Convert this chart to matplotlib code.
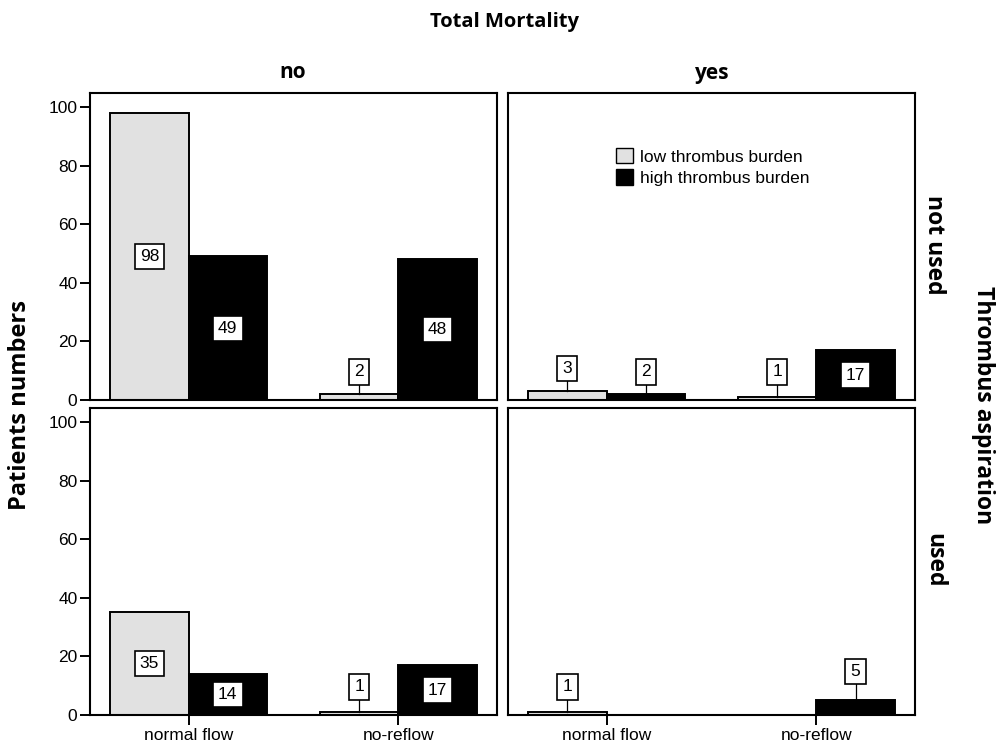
import matplotlib
matplotlib.use('Agg')
import matplotlib.pyplot as plt
from matplotlib.patches import Patch

# data
flow = ['normal flow', 'no-reflow']
mortality = ['no', 'yes']
aspiration = ['not used', 'used']
# [aspiration][mortality] -> values per flow category
low_burden = [[[98, 2], [3, 1]],
              [[35, 1], [1, 0]]]
high_burden = [[[49, 48], [2, 17]],
               [[14, 17], [0, 5]]]

low_color = '#e1e1e1'
high_color = '#000000'

plt.rcParams['font.family'] = ['Liberation Sans', 'DejaVu Sans']
fig = plt.figure(figsize=(9.98, 7.48), dpi=100)

W, H = 998, 748
lefts = [90, 508]
tops = [93, 408]
pw, ph = 407, 307

box = dict(boxstyle='square,pad=0.3', facecolor='white', edgecolor='black', linewidth=1.2)
bw = 0.373
small = 12.5
bold = dict(fontweight='bold', family=['Open Sans', 'DejaVu Sans'])

for r in range(2):
    for c in range(2):
        ax = fig.add_axes([lefts[c] / W, 1 - (tops[r] + ph) / H, pw / W, ph / H])
        lows = low_burden[r][c]
        highs = high_burden[r][c]
        for i in range(len(flow)):
            for val, x, col in [(lows[i], i - bw / 2, low_color), (highs[i], i + bw / 2, high_color)]:
                if val == 0:
                    continue
                ax.bar(x, val, width=bw, color=col, edgecolor='black', linewidth=1.4, zorder=2)
                if val >= 10:
                    ax.text(x, val / 2, str(val), ha='center', va='center', fontsize=small, bbox=box, zorder=3)
                else:
                    # small bars get their label above, with a leader line
                    ypos = max(1.95 * val + 5, 9.6)
                    ax.plot([x, x], [val, ypos], color='black', lw=0.9, zorder=2)
                    ax.text(x, ypos, str(val), ha='center', va='center', fontsize=small, bbox=box, zorder=3)
        ax.set_xlim(-0.47, 1.47)
        ax.set_ylim(0, 104.8)
        for s in ax.spines.values():
            s.set_linewidth(1.5)
        if c == 0:
            ax.set_yticks([0, 20, 40, 60, 80, 100])
            ax.tick_params(axis='y', direction='out', length=7, width=1.4, labelsize=small, pad=2)
        else:
            ax.set_yticks([])
        if r == 1:
            ax.set_xticks([0, 1])
            ax.set_xticklabels(flow)
            ax.tick_params(axis='x', direction='out', length=7, width=1.4, labelsize=small, pad=2)
        else:
            ax.set_xticks([])
        if r == 0 and c == 1:
            handles = [Patch(facecolor=low_color, edgecolor='black', label='low thrombus burden'),
                       Patch(facecolor=high_color, edgecolor='black', label='high thrombus burden')]
            ax.legend(handles=handles, loc='upper left', bbox_to_anchor=(0.24, 0.855), frameon=False,
                      fontsize=small, handlelength=1.0, handleheight=1.0, handletextpad=0.4,
                      labelspacing=0.25, borderpad=0.1)

fig.text(505 / W, 1 - 22 / H, 'Total Mortality', ha='center', va='center', fontsize=14.5, **bold)
fig.text(293 / W, 1 - 73 / H, mortality[0], ha='center', va='center', fontsize=15, **bold)
fig.text(712 / W, 1 - 73 / H, mortality[1], ha='center', va='center', fontsize=15, **bold)
fig.text(934 / W, 1 - 245 / H, aspiration[0], ha='center', va='center', rotation=-90, fontsize=16.5, **bold)
fig.text(934 / W, 1 - 560 / H, aspiration[1], ha='center', va='center', rotation=-90, fontsize=16.5, **bold)
fig.text(983 / W, 1 - 405 / H, 'Thrombus aspiration', ha='center', va='center', rotation=-90, fontsize=16.5, **bold)
fig.text(20 / W, 1 - 405 / H, 'Patients numbers', ha='center', va='center', rotation=90, fontsize=17, **bold)

fig.savefig('out.png', dpi=100)
